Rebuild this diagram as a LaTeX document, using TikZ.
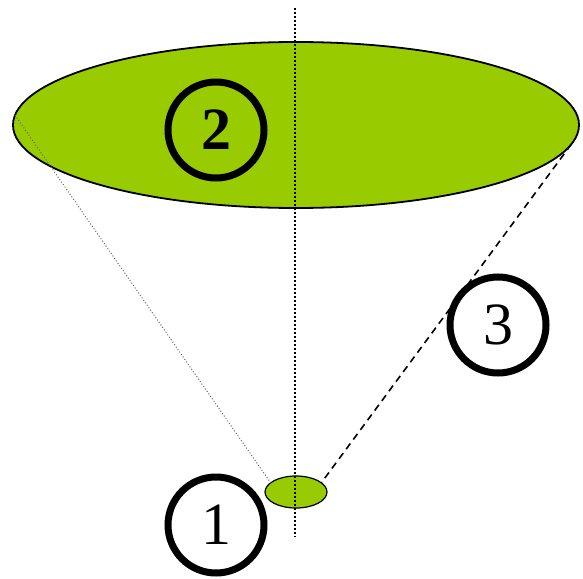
\documentclass[tikz,border=0pt]{standalone}
\usepackage{fontspec}
\setmainfont{Liberation Serif}
\usetikzlibrary{shapes.geometric}
\definecolor{leaf}{RGB}{153,204,0}
\begin{document}
\begin{tikzpicture}[x=1pt,y=-1pt,
  disc/.style={draw,fill=leaf,ellipse,inner sep=0pt,outer sep=0pt,line width=1.8pt},
  tag/.style={draw,circle,line width=7pt,minimum size=96pt,inner sep=0pt,font=\fontsize{60}{60}\selectfont}]
  \useasboundingbox (0,0) rectangle (583,578);
  \node[disc,minimum width=566,minimum height=166] (big) at (296,125) {};
  \node[disc,minimum width=62,minimum height=32,line width=1.2pt] (small) at (296,492) {};
  \node[tag,font=\fontsize{60}{60}\selectfont\bfseries] (two) at (216,130) {2};
  \node[tag] (three) at (498,325) {3};
  \node[tag] (one) at (216,525) {1};
  \coordinate (axtop) at (295,8);
  \coordinate (axbot) at (295,537);
  \draw[line width=1.6pt,dash pattern=on 1.6pt off 2.4pt] (axtop) -- (axbot);
  \draw[gray!80!black,line width=1pt,dash pattern=on 1pt off 2pt] (big.178) -- (small.160);
  \draw[line width=1.6pt,dash pattern=on 7pt off 5pt] (big.-4) -- (small.20);
\end{tikzpicture}
\end{document}
